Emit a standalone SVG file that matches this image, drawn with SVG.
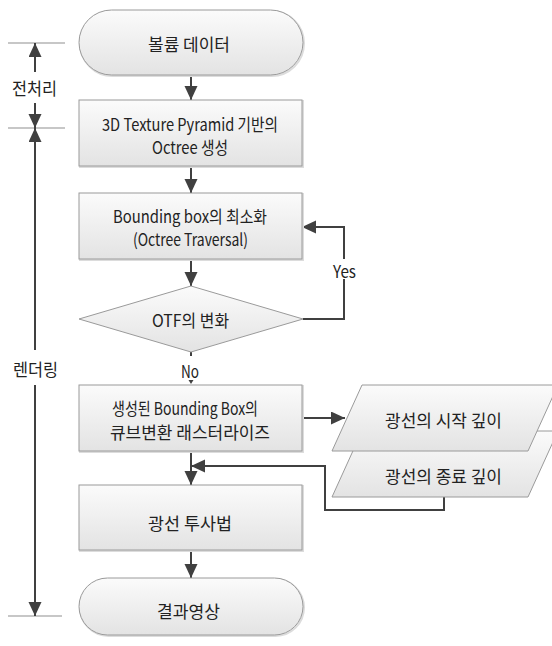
<svg xmlns="http://www.w3.org/2000/svg" width="552" height="646" viewBox="0 0 552 646">
<defs>
<linearGradient id="g" x1="0" y1="0" x2="0" y2="1">
<stop offset="0" stop-color="#fbfbfb"/>
<stop offset="1" stop-color="#e3e3e3"/>
</linearGradient>
<marker id="ah" markerWidth="14" markerHeight="14" refX="14" refY="6.5" orient="auto" markerUnits="userSpaceOnUse">
<path d="M0,0 L14,6.5 L0,13 Z" fill="#404040"/>
</marker>
<style>
.s{fill:url(#g);stroke:#9a9a9a;stroke-width:1}
.sh{fill:none;stroke:#dcdcdc;stroke-width:2}
.t{font-family:"Noto Sans CJK KR","Noto Sans",sans-serif;font-size:17px;fill:#222;text-anchor:middle}
.c{fill:none;stroke:#404040;stroke-width:2}
.r{fill:none;stroke:#b4b4b4;stroke-width:1.5}
</style>
</defs>
<rect width="552" height="646" fill="#fff"/>
<g id="connectors">
<path class="c" d="M191,75 V100" marker-end="url(#ah)"/>
<path class="c" d="M191,166 V193" marker-end="url(#ah)"/>
<path class="c" d="M191,259 V286" marker-end="url(#ah)"/>
<path class="c" d="M303,319 H344 V227 H302" marker-end="url(#ah)"/>
<path class="c" d="M191,352 V356"/>
<path d="M188.5,380 L193.5,380 L191,384 Z" fill="#404040"/>
<path class="c" d="M302,418 H345" marker-end="url(#ah)"/>
<path class="c" d="M191,451 V485" marker-end="url(#ah)"/>
<path class="c" d="M444,497 V510 H325 V466 H191" marker-end="url(#ah)"/>
<path class="c" d="M191,550 V578" marker-end="url(#ah)"/>
<rect x="331" y="259" width="26" height="20" fill="#fff"/>
<text class="t" x="344.5" y="277.5" textLength="23" lengthAdjust="spacingAndGlyphs">Yes</text>
<text class="t" x="190" y="377.5" textLength="18" lengthAdjust="spacingAndGlyphs">No</text>
</g>
<g id="phases">
<line class="r" x1="8" y1="43" x2="65" y2="43"/>
<line class="r" x1="8" y1="128" x2="65" y2="128"/>
<line class="r" x1="8" y1="616" x2="62" y2="616"/>
<path class="c" d="M35,72 V43" marker-end="url(#ah)"/>
<path class="c" d="M35,103 V128" marker-end="url(#ah)"/>
<text class="t" x="34.5" y="94.5" textLength="45" lengthAdjust="spacingAndGlyphs">전처리</text>
<path class="c" d="M35,350 V128" marker-end="url(#ah)"/>
<text class="t" x="35.5" y="375.5" textLength="45" lengthAdjust="spacingAndGlyphs">렌더링</text>
<path class="c" d="M35,385 V616" marker-end="url(#ah)"/>
</g>
<g id="n1">
<rect class="sh" x="80" y="11" width="224" height="65" rx="32.5"/>
<rect class="s" x="79" y="10" width="224" height="65" rx="32.5"/>
<text class="t" x="189" y="50.5" textLength="82" lengthAdjust="spacingAndGlyphs">볼륨 데이터</text>
</g>
<g id="n2">
<rect class="sh" x="80" y="101" width="223" height="66"/>
<rect class="s" x="79" y="100" width="223" height="66"/>
<text class="t" x="190" y="130.5" textLength="176" lengthAdjust="spacingAndGlyphs">3D Texture Pyramid 기반의</text>
<text class="t" x="190" y="153.5" textLength="76" lengthAdjust="spacingAndGlyphs">Octree 생성</text>
</g>
<g id="n3">
<rect class="sh" x="80" y="194" width="223" height="66"/>
<rect class="s" x="79" y="193" width="223" height="66"/>
<text class="t" x="190" y="222.5" textLength="154" lengthAdjust="spacingAndGlyphs">Bounding box의 최소화</text>
<text class="t" x="190.5" y="245.5" textLength="115" lengthAdjust="spacingAndGlyphs">(Octree Traversal)</text>
</g>
<g id="n4">
<polygon class="s" points="191,286 303,319 191,352 79,319"/>
<text class="t" x="190.5" y="326.5" textLength="77" lengthAdjust="spacingAndGlyphs">OTF의 변화</text>
</g>
<g id="n5">
<rect class="sh" x="80" y="386" width="223" height="66"/>
<rect class="s" x="79" y="385" width="223" height="66"/>
<text class="t" x="185" y="414.5" textLength="146" lengthAdjust="spacingAndGlyphs">생성된 Bounding Box의</text>
<text class="t" x="190" y="438.5" textLength="160" lengthAdjust="spacingAndGlyphs">큐브변환 래스터라이즈</text>
</g>
<g id="n7">
<polygon class="s" points="362,431 558,431 528,497 332,497"/>
<text class="t" x="443.5" y="482.5" textLength="117" lengthAdjust="spacingAndGlyphs">광선의 종료 깊이</text>
</g>
<g id="n6">
<polygon class="s" points="362,385 558,385 528,451 332,451"/>
<text class="t" x="443.5" y="426.5" textLength="117" lengthAdjust="spacingAndGlyphs">광선의 시작 깊이</text>
</g>
<g id="n8">
<rect class="sh" x="80" y="486" width="223" height="65"/>
<rect class="s" x="79" y="485" width="223" height="65"/>
<text class="t" x="190" y="529.5" textLength="84" lengthAdjust="spacingAndGlyphs">광선 투사법</text>
</g>
<g id="n9">
<rect class="sh" x="80" y="579" width="224" height="57" rx="28.5"/>
<rect class="s" x="79" y="578" width="224" height="57" rx="28.5"/>
<text class="t" x="188.5" y="617.5" textLength="63" lengthAdjust="spacingAndGlyphs">결과영상</text>
</g>
</svg>
